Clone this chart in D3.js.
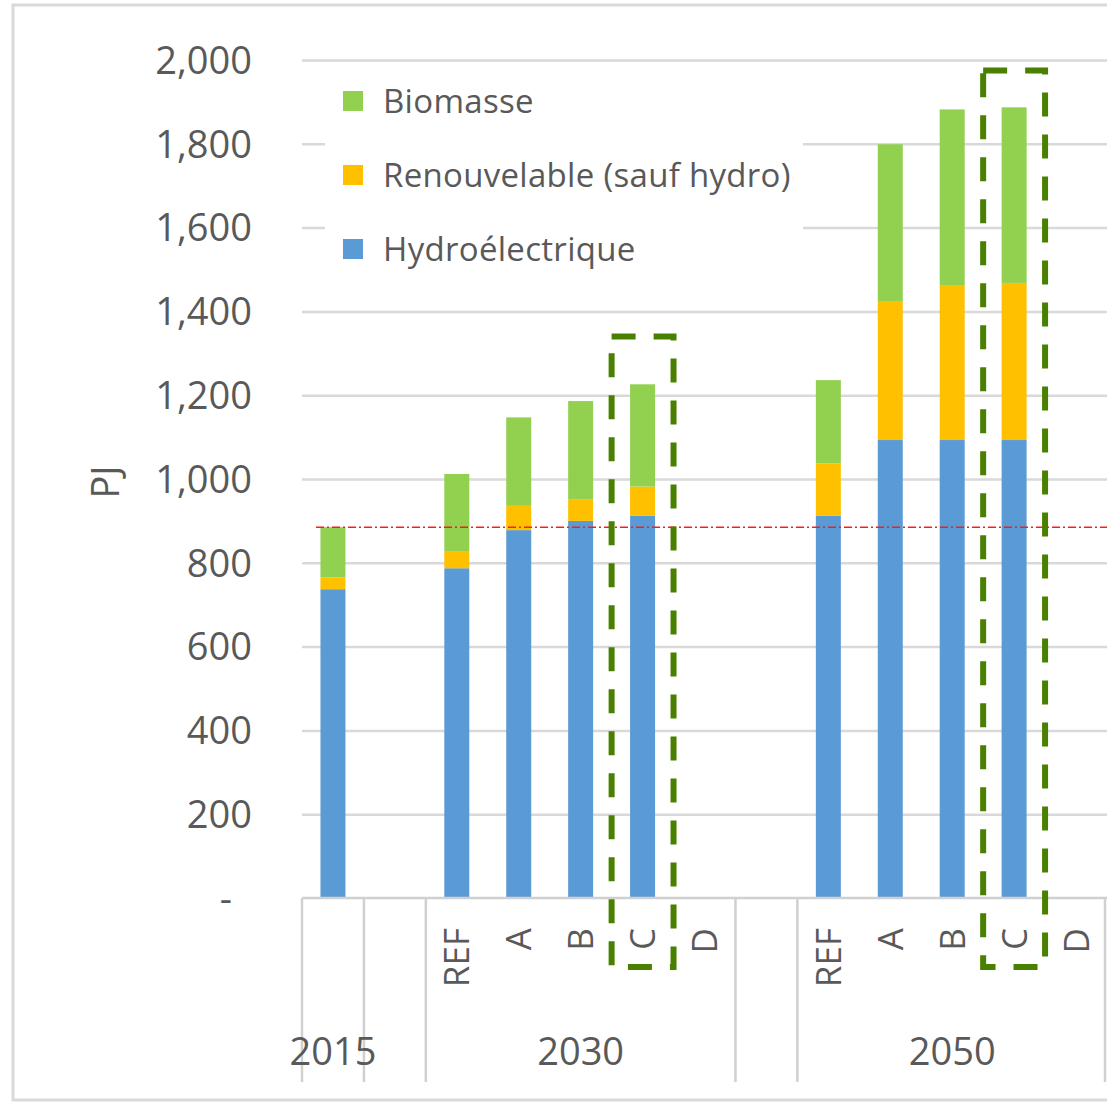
<!DOCTYPE html>
<html>
<head>
<meta charset="utf-8">
<script src="https://cdn.jsdelivr.net/npm/d3@7"></script>
<style>
  html, body { margin: 0; padding: 0; background: #fff; }
  svg { display: block; font-family: "Open Sans", "Noto Sans", sans-serif; }
</style>
</head>
<body>
<svg id="chart" width="1107" height="1102"></svg>
<script>
// Category layout: each year group holds its scenario slots; empty groups are spacer columns
const yearGroups = ["2015", "", "2030", "", "2050"];
const groupScenarios = [[""], [""], ["REF", "A", "B", "C", "D"], [""], ["REF", "A", "B", "C", "D"]];

// Energy supply (PJ) per slot, in slot order; null = no bar
const hydro     = [737, null, 787, 878, 900, 912, null, null, 912, 1093, 1093, 1093, null];
const renewable = [28,  null, 41,  58,  52,  70,  null, null, 125, 330,  370,  375,  null];
const biomass   = [120, null, 184, 211, 234, 244, null, null, 199, 376,  419,  419,  null];

const seriesKeys = ["hydro", "renewable", "biomass"];
const seriesNames = { biomass: "Biomasse", renewable: "Renouvelable (sauf hydro)", hydro: "Hydroélectrique" };
const seriesColors = { hydro: "#5b9bd5", renewable: "#ffc000", biomass: "#92d050" };
const legendOrder = ["biomass", "renewable", "hydro"];

const yTicks = [0, 200, 400, 600, 800, 1000, 1200, 1400, 1600, 1800, 2000];
const yLabel = "PJ";

// Scenarios singled out with a dashed frame (top of frame in PJ)
const highlights = [{ group: "2030", scenario: "C", top: 1340 }, { group: "2050", scenario: "C", top: 1975 }];

// ---------------------------------------------------------------------------
const svg = d3.select("#chart");
const W = 1107, H = 1102;
const plot = { left: 302, right: 1107, top: 60, bottom: 898 };
const axisBottom = 1082;
const textColor = "#595959";
const gridColor = "#d9d9d9";
const fontFamily = '"Open Sans", "Noto Sans", sans-serif';

// flat slot list
const slots = [];
groupScenarios.forEach((scens, gi) => scens.forEach(s => slots.push({ key: gi + "|" + s, gi, scenario: s })));
const rows = slots.map((s, i) => ({ key: s.key, hydro: hydro[i], renewable: renewable[i], biomass: biomass[i] }));

const x = d3.scaleBand().domain(slots.map(s => s.key)).range([plot.left, plot.right]).paddingInner(0).paddingOuter(0);
const barW = 25;
const y = d3.scaleLinear().domain([0, 2000]).range([plot.bottom, plot.top]);

svg.append("rect").attr("width", W).attr("height", H).attr("fill", "#fff");

// chart frame
svg.append("rect").attr("x", 13).attr("y", 5).attr("width", W).attr("height", 1095)
  .attr("fill", "none").attr("stroke", gridColor).attr("stroke-width", 3);

// y axis with gridlines
const yAxis = d3.axisLeft(y).tickValues(yTicks)
  .tickFormat(d => d === 0 ? "-" : d3.format(",")(d))
  .tickSize(-(plot.right - plot.left)).tickPadding(50);
const gy = svg.append("g").attr("transform", `translate(${plot.left},0)`).call(yAxis)
  .attr("font-family", fontFamily);
gy.select(".domain").remove();
gy.selectAll(".tick line").attr("stroke", gridColor).attr("stroke-width", 2.5)
  .filter(d => d === 0).remove();
gy.selectAll(".tick text").attr("fill", textColor).attr("font-size", 38).attr("dy", "0.35em")
  .filter(d => d === 0).attr("dx", -20);

// y axis title
svg.append("text").attr("transform", `translate(119,482) rotate(-90)`)
  .attr("text-anchor", "middle").attr("fill", textColor).attr("font-size", 38).text(yLabel);

// legend panel
const legend = svg.append("g");
legend.append("rect").attr("x", 325).attr("y", 63).attr("width", 478).attr("height", 212).attr("fill", "#fff");
legendOrder.forEach((k, i) => {
  const cy = 101 + i * 74;
  legend.append("rect").attr("x", 343).attr("y", cy - 10).attr("width", 20).attr("height", 20).attr("fill", seriesColors[k]);
  legend.append("text").attr("x", 383).attr("y", cy).attr("dy", "0.35em")
    .attr("fill", textColor).attr("font-size", 33).attr("letter-spacing", 0.3).text(seriesNames[k]);
});

// stacked bars
const stack = d3.stack().keys(seriesKeys).value((d, k) => d[k] == null ? 0 : d[k]);
const layers = stack(rows);
svg.append("g").selectAll("g").data(layers).join("g")
  .attr("fill", d => seriesColors[d.key])
  .selectAll("rect").data(d => d.filter(p => p.data[d.key] != null)).join("rect")
  .attr("x", p => x(p.data.key) + (x.bandwidth() - barW) / 2)
  .attr("width", barW)
  .attr("y", p => y(p[1]))
  .attr("height", p => y(p[0]) - y(p[1]));

// reference level: total supply of the base year
const baseTotal = hydro[0] + renewable[0] + biomass[0];
svg.append("line").attr("x1", x(slots[0].key) + 14).attr("x2", plot.right)
  .attr("y1", y(baseTotal)).attr("y2", y(baseTotal))
  .attr("stroke", "#ff1a1a").attr("stroke-width", 1.6).attr("stroke-dasharray", "8,3,2,3");

// category axis: baseline and group dividers
const cat = svg.append("g");
cat.append("line").attr("x1", plot.left).attr("x2", plot.right).attr("y1", plot.bottom).attr("y2", plot.bottom)
  .attr("stroke", "#d0d0d0").attr("stroke-width", 2.5);
const boundaries = [plot.left];
let idx = 0;
groupScenarios.forEach(sc => { idx += sc.length; boundaries.push(idx < slots.length ? x(slots[idx].key) : plot.right - 2); });
cat.selectAll("line.div").data(boundaries).join("line").attr("class", "div")
  .attr("x1", d => d).attr("x2", d => d).attr("y1", plot.bottom).attr("y2", axisBottom)
  .attr("stroke", "#d0d0d0").attr("stroke-width", 2.5);

// scenario labels (rotated)
cat.selectAll("text.scen").data(slots.filter(s => s.scenario)).join("text").attr("class", "scen")
  .attr("transform", s => `translate(${x(s.key) + x.bandwidth() / 2},928) rotate(-90)`)
  .attr("dy", "0.36em").attr("text-anchor", "end")
  .attr("fill", textColor).attr("font-size", 35).text(s => s.scenario);

// year labels centred under their groups
const groupSpans = yearGroups.map((g, gi) => {
  const keys = slots.filter(s => s.gi === gi).map(s => s.key);
  return { label: g, cx: (x(keys[0]) + x(keys[keys.length - 1]) + x.bandwidth()) / 2 };
}).filter(d => d.label);
cat.selectAll("text.year").data(groupSpans).join("text").attr("class", "year")
  .attr("x", d => d.cx).attr("y", 1052).attr("dy", "0.35em").attr("text-anchor", "middle")
  .attr("fill", textColor).attr("font-size", 38).text(d => d.label);

// dashed frames around highlighted scenarios
svg.append("g").selectAll("rect").data(highlights).join("rect")
  .attr("x", h => x(yearGroups.indexOf(h.group) + "|" + h.scenario))
  .attr("width", x.bandwidth())
  .attr("y", h => y(h.top))
  .attr("height", h => 967 - y(h.top))
  .attr("fill", "none").attr("stroke", "#4a8000").attr("stroke-width", 6)
  .attr("stroke-dasharray", "24,18");
</script>
</body>
</html>
